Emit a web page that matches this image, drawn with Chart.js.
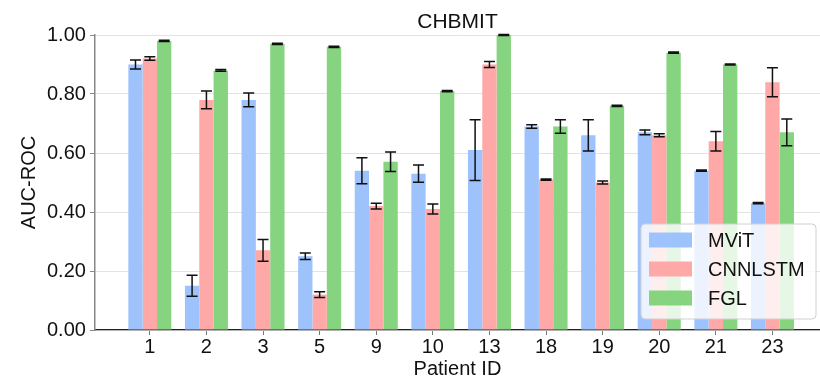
<!DOCTYPE html>
<html>
<head>
<meta charset="utf-8">
<script src="https://cdn.jsdelivr.net/npm/chart.js@4.4.0/dist/chart.umd.min.js"></script>
<style>
  html, body { margin: 0; padding: 0; background: #fff; }
  #wrap { width: 820px; height: 380px; }
</style>
</head>
<body>
<div id="wrap"><canvas id="chart" width="820" height="380"></canvas></div>
<script>
// Patient IDs (x categories)
const patientIds = ["1", "2", "3", "5", "9", "10", "13", "18", "19", "20", "21", "23"];

// AUC-ROC means
const mvit    = [0.90, 0.15, 0.78, 0.25, 0.54, 0.53, 0.61, 0.69, 0.66, 0.67, 0.54, 0.43];
const cnnlstm = [0.92, 0.78, 0.27, 0.12, 0.42, 0.41, 0.90, 0.51, 0.50, 0.66, 0.64, 0.84];
const fgl     = [0.98, 0.88, 0.97, 0.96, 0.57, 0.81, 1.00, 0.69, 0.76, 0.94, 0.90, 0.67];

// error (half-width of the error bar)
const mvitErr    = [0.015, 0.036, 0.023, 0.011, 0.044, 0.029, 0.103, 0.006, 0.053, 0.008, 0.002, 0.002];
const cnnlstmErr = [0.006, 0.030, 0.037, 0.010, 0.010, 0.017, 0.010, 0.002, 0.005, 0.005, 0.033, 0.049];
const fglErr     = [0.002, 0.003, 0.002, 0.002, 0.033, 0.002, 0.002, 0.023, 0.002, 0.002, 0.002, 0.045];

const yTicks = [0, 0.2, 0.4, 0.6, 0.8, 1.0];

const FONT = "'Liberation Sans', Arial, Helvetica, sans-serif";

function toPoints(arr) {
	return arr.map((v, i) => ({ x: i, y: v }));
}

// error bars drawn on top of bars
const errorBars = {
	id: "errorBars",
	afterDatasetsDraw(chart) {
		const ctx = chart.ctx;
		const yScale = chart.scales.y;
		ctx.save();
		ctx.strokeStyle = "#111";
		ctx.lineWidth = 1.5;
		chart.data.datasets.forEach((ds, di) => {
			const meta = chart.getDatasetMeta(di);
			meta.data.forEach((bar, i) => {
				const v = ds.data[i].y;
				const e = ds.err[i];
				const top = yScale.getPixelForValue(v + e);
				const bot = yScale.getPixelForValue(v - e);
				const cap = 5.5;
				ctx.beginPath();
				ctx.moveTo(bar.x, top);
				ctx.lineTo(bar.x, bot);
				ctx.moveTo(bar.x - cap, top);
				ctx.lineTo(bar.x + cap, top);
				ctx.moveTo(bar.x - cap, bot);
				ctx.lineTo(bar.x + cap, bot);
				ctx.stroke();
			});
		});
		ctx.restore();
	}
};

// title centred over the plot area + legend box inside the plot
const extras = {
	id: "extras",
	afterDraw(chart) {
		const ctx = chart.ctx;
		const area = chart.chartArea;
		ctx.save();
		ctx.fillStyle = "#111";
		ctx.font = "21px " + FONT;
		ctx.textAlign = "center";
		ctx.textBaseline = "middle";
		ctx.fillText("CHBMIT", (area.left + area.right) / 2, 22);

		// legend
		const bx = 641, by = 224, bw = 175, bh = 95;
		ctx.beginPath();
		ctx.roundRect(bx, by, bw, bh, 4);
		ctx.fillStyle = "rgba(255,255,255,0.8)";
		ctx.fill();
		ctx.strokeStyle = "#d0d0d0";
		ctx.lineWidth = 1;
		ctx.stroke();

		ctx.textAlign = "left";
		ctx.font = "20px " + FONT;
		chart.data.datasets.forEach((ds, i) => {
			const cy = 240 + i * 29;
			ctx.fillStyle = ds.backgroundColor;
			ctx.fillRect(649, cy - 7.5, 43, 15);
			ctx.fillStyle = "#111";
			ctx.fillText(ds.label, 708, cy + 1);
		});
		ctx.restore();
	}
};

new Chart(document.getElementById("chart"), {
	type: "bar",
	data: {
		datasets: [
			{ label: "MViT", data: toPoints(mvit), err: mvitErr, backgroundColor: "rgb(158,195,252)" },
			{ label: "CNNLSTM", data: toPoints(cnnlstm), err: cnnlstmErr, backgroundColor: "rgb(255,168,168)" },
			{ label: "FGL", data: toPoints(fgl), err: fglErr, backgroundColor: "rgb(134,212,128)" },
		],
	},
	options: {
		responsive: false,
		animation: false,
		devicePixelRatio: 1,
		layout: { padding: { left: 17, right: 0, top: 35, bottom: 1 } },
		datasets: {
			bar: { categoryPercentage: 0.76, barPercentage: 1.0, borderWidth: 0 },
		},
		plugins: {
			legend: { display: false },
			title: { display: false },
			tooltip: { enabled: false },
		},
		scales: {
			x: {
				type: "linear",
				min: -0.97,
				max: 11.84,
				offset: false,
				grid: { display: true, drawOnChartArea: false, drawTicks: true, tickLength: 5, offset: false, tickColor: "#777" },
				border: { display: true, color: "#222", width: 1.2 },
				ticks: {
					stepSize: 1,
					includeBounds: false,
					autoSkip: false,
					maxRotation: 0,
					color: "#111",
					font: { family: FONT, size: 20, lineHeight: 1.2 },
					padding: 0,
					callback: (value) => (Number.isInteger(value) && patientIds[value] !== undefined ? patientIds[value] : ""),
				},
				title: { display: true, text: "Patient ID", color: "#111", font: { family: FONT, size: 20, lineHeight: 1.0 }, padding: { top: 0, bottom: 0 } },
			},
			y: {
				min: 0,
				max: 1.0,
				afterBuildTicks: (scale) => {
					scale.ticks = yTicks.map((v) => ({ value: v }));
				},
				grid: { color: "#e3e3e3", lineWidth: 1, tickLength: 5, tickColor: "#888" },
				border: { display: true, color: "#888", width: 1.5 },
				ticks: {
					color: "#111",
					font: { family: FONT, size: 20 },
					padding: 4,
					callback: (value) => value.toFixed(2),
				},
				title: { display: true, text: "AUC-ROC", color: "#111", font: { family: FONT, size: 20 }, padding: { top: 0, bottom: 2 } },
			},
		},
	},
	plugins: [errorBars, extras],
});
</script>
</body>
</html>
